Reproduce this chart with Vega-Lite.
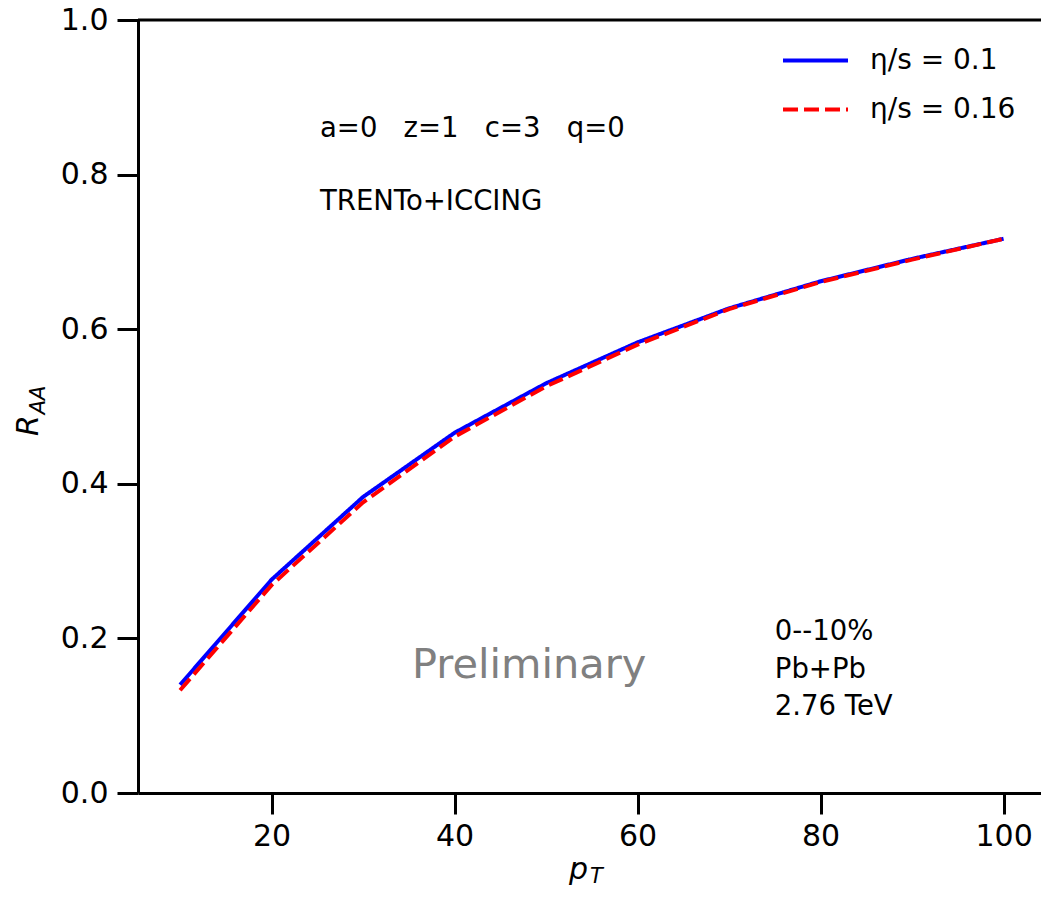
{
  "$schema": "https://vega.github.io/schema/vega-lite/v6.json",
  "width": 903,
  "height": 773,
  "padding": {"left": 138, "top": 20, "right": 0, "bottom": 104},
  "autosize": {"type": "none"},
  "background": "white",
  "config": {
    "view": {"stroke": null},
    "font": "DejaVu Sans",
    "text": {"font": "DejaVu Sans"}
  },
  "layer": [
    {
      "data": {
        "values": [
          {"pT": 10, "RAA": 0.140, "series": "η/s = 0.1"},
          {"pT": 20, "RAA": 0.276, "series": "η/s = 0.1"},
          {"pT": 30, "RAA": 0.383, "series": "η/s = 0.1"},
          {"pT": 40, "RAA": 0.466, "series": "η/s = 0.1"},
          {"pT": 50, "RAA": 0.530, "series": "η/s = 0.1"},
          {"pT": 60, "RAA": 0.583, "series": "η/s = 0.1"},
          {"pT": 70, "RAA": 0.627, "series": "η/s = 0.1"},
          {"pT": 80, "RAA": 0.662, "series": "η/s = 0.1"},
          {"pT": 90, "RAA": 0.691, "series": "η/s = 0.1"},
          {"pT": 100, "RAA": 0.717, "series": "η/s = 0.1"},
          {"pT": 10, "RAA": 0.133, "series": "η/s = 0.16"},
          {"pT": 20, "RAA": 0.269, "series": "η/s = 0.16"},
          {"pT": 30, "RAA": 0.376, "series": "η/s = 0.16"},
          {"pT": 40, "RAA": 0.461, "series": "η/s = 0.16"},
          {"pT": 50, "RAA": 0.526, "series": "η/s = 0.16"},
          {"pT": 60, "RAA": 0.580, "series": "η/s = 0.16"},
          {"pT": 70, "RAA": 0.626, "series": "η/s = 0.16"},
          {"pT": 80, "RAA": 0.661, "series": "η/s = 0.16"},
          {"pT": 90, "RAA": 0.690, "series": "η/s = 0.16"},
          {"pT": 100, "RAA": 0.717, "series": "η/s = 0.16"}
        ]
      },
      "mark": {"type": "line", "strokeWidth": 4},
      "encoding": {
        "x": {
          "field": "pT",
          "type": "quantitative",
          "scale": {"domain": [5.4, 104.09], "nice": false, "zero": false},
          "axis": {
            "title": "p",
            "titleFontStyle": "italic",
            "titleFontWeight": "normal",
            "titleFontSize": 30,
            "titleColor": "black",
            "titleX": 440,
            "titleY": 85,
            "titleAlign": "center",
            "titleBaseline": "alphabetic",
            "values": [20, 40, 60, 80, 100],
            "grid": false,
            "tickSize": 21,
            "tickWidth": 3,
            "tickColor": "black",
            "domainColor": "black",
            "domainWidth": 3,
            "labelFontSize": 30,
            "labelColor": "black",
            "labelPadding": 7,
            "labelFlush": false,
            "labelOverlap": false
          }
        },
        "y": {
          "field": "RAA",
          "type": "quantitative",
          "scale": {"domain": [0, 1], "nice": false},
          "axis": {
            "title": "R",
            "titleFontStyle": "italic",
            "titleFontWeight": "normal",
            "titleFontSize": 30,
            "titleColor": "black",
            "titleAngle": 270,
            "titleX": -101,
            "titleY": 405,
            "titleAlign": "center",
            "titleBaseline": "alphabetic",
            "values": [0, 0.2, 0.4, 0.6, 0.8, 1.0],
            "format": ".1f",
            "grid": false,
            "tickSize": 21,
            "tickWidth": 3,
            "tickColor": "black",
            "domainColor": "black",
            "domainWidth": 3,
            "labelFontSize": 30,
            "labelColor": "black",
            "labelPadding": 9,
            "labelFlush": false,
            "labelOverlap": false
          }
        },
        "color": {
          "field": "series",
          "type": "nominal",
          "scale": {"domain": ["η/s = 0.1", "η/s = 0.16"], "range": ["#0000ff", "#ff0000"]},
          "legend": {
            "title": null,
            "orient": "none",
            "legendX": 643,
            "legendY": 6,
            "padding": 0,
            "symbolType": "stroke",
            "symbolSize": 4225,
            "symbolStrokeWidth": 4,
            "labelFontSize": 28,
            "labelFont": "DejaVu Sans",
            "labelColor": "black",
            "labelOffset": 20,
            "rowPadding": -23
          }
        },
        "strokeDash": {
          "field": "series",
          "type": "nominal",
          "scale": {"domain": ["η/s = 0.1", "η/s = 0.16"], "range": [[1, 0], [15, 6]]},
          "legend": {
            "title": null,
            "orient": "none",
            "legendX": 643,
            "legendY": 6,
            "padding": 0,
            "symbolType": "stroke",
            "symbolSize": 4225,
            "symbolStrokeWidth": 4,
            "labelFontSize": 28,
            "labelFont": "DejaVu Sans",
            "labelColor": "black",
            "labelOffset": 20,
            "rowPadding": -23
          }
        }
      }
    },
    {
      "data": {"values": [{"top": 1.0}]},
      "mark": {"type": "rule", "strokeWidth": 3, "color": "black"},
      "encoding": {"y": {"field": "top", "type": "quantitative"}}
    },
    {
      "data": {
        "values": [
          {"x": 25.29, "y": 0.8486, "label": "a=0 \u00a0 z=1 \u00a0 c=3 \u00a0 q=0"},
          {"x": 25.29, "y": 0.7542, "label": "TRENTo+ICCING"},
          {"x": 75.0, "y": 0.1979, "label": "0--10%"},
          {"x": 75.0, "y": 0.1488, "label": "Pb+Pb"},
          {"x": 75.0, "y": 0.1009, "label": "2.76 TeV"}
        ]
      },
      "mark": {"type": "text", "align": "left", "baseline": "alphabetic", "fontSize": 27.5, "color": "black"},
      "encoding": {
        "x": {"field": "x", "type": "quantitative"},
        "y": {"field": "y", "type": "quantitative"},
        "text": {"field": "label"}
      }
    },
    {
      "data": {"values": [{"x": 35.35, "y": 0.1488, "label": "Preliminary"}]},
      "mark": {"type": "text", "align": "left", "baseline": "alphabetic", "fontSize": 41.5, "color": "#808080"},
      "encoding": {
        "x": {"field": "x", "type": "quantitative"},
        "y": {"field": "y", "type": "quantitative"},
        "text": {"field": "label"}
      }
    },
    {
      "data": {"values": [{"x": -4.764, "y": 0.5084, "label": "AA"}]},
      "mark": {"type": "text", "align": "center", "baseline": "alphabetic", "fontSize": 21, "fontStyle": "italic", "angle": 270, "color": "black"},
      "encoding": {
        "x": {"field": "x", "type": "quantitative"},
        "y": {"field": "y", "type": "quantitative"},
        "text": {"field": "label"}
      }
    },
    {
      "data": {"values": [{"x": 55.5, "y": -0.1164, "label": "T"}]},
      "mark": {"type": "text", "align": "center", "baseline": "alphabetic", "fontSize": 21, "fontStyle": "italic", "color": "black"},
      "encoding": {
        "x": {"field": "x", "type": "quantitative"},
        "y": {"field": "y", "type": "quantitative"},
        "text": {"field": "label"}
      }
    }
  ]
}
